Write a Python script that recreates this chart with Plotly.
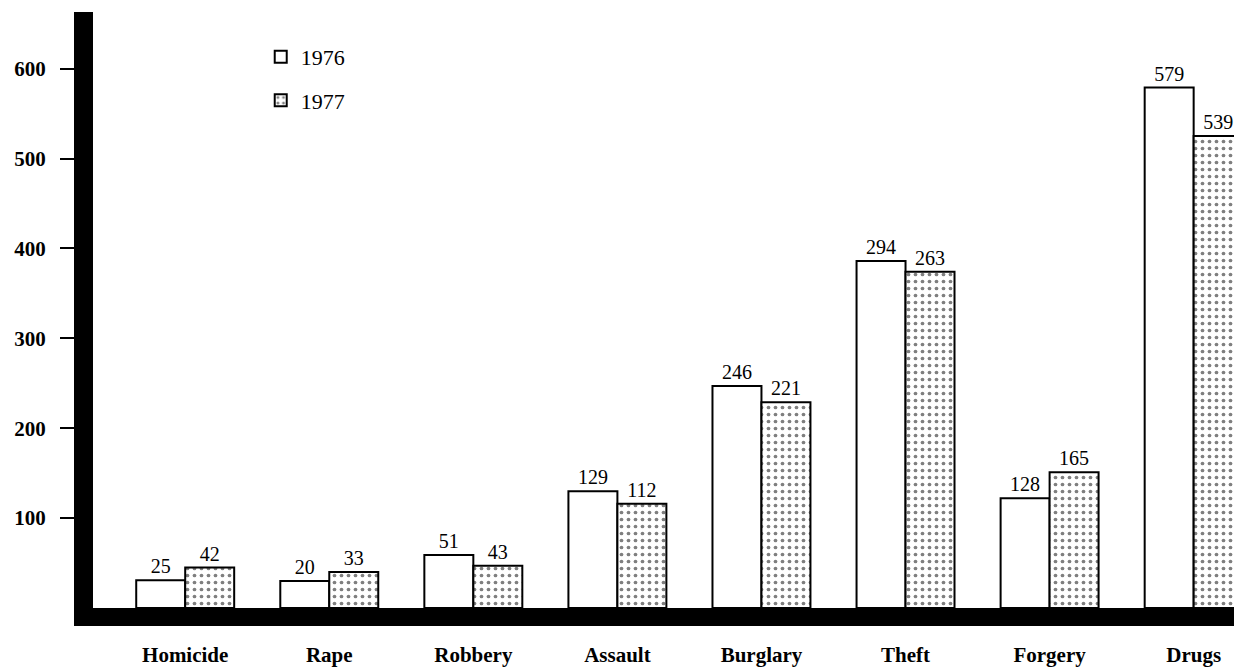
import plotly.graph_objects as go

crimes = ["Homicide", "Rape", "Robbery", "Assault", "Burglary", "Theft", "Forgery", "Drugs"]

# bar heights as they are drawn against the axis
bars_1976 = [31, 30, 59, 130, 247, 386, 122, 579]
bars_1977 = [45, 40, 47, 116, 229, 374, 151, 525]

# numbers printed above the bars
labels_1976 = ["25", "20", "51", "129", "246", "294", "128", "579"]
labels_1977 = ["42", "33", "43", "112", "221", "263", "165", "539"]

y_ticks = [100, 200, 300, 400, 500, 600]

serif = "Liberation Serif, Times New Roman, serif"

fig = go.Figure()
fig.add_trace(go.Bar(
    x=crimes, y=bars_1976, name="1976", legendgroup="a",
    text=labels_1976, textposition="outside", constraintext="none",
    textfont=dict(family=serif, size=20, color="black"),
    marker=dict(color="white", line=dict(color="black", width=2)),
))
fig.add_trace(go.Bar(
    x=crimes, y=bars_1977, name="1977", legendgroup="b",
    text=labels_1977, textposition="outside", constraintext="none",
    textfont=dict(family=serif, size=20, color="black"),
    marker=dict(color="white", line=dict(color="black", width=2),
                pattern=dict(shape=".", size=7, solidity=0.22,
                             fgcolor="black", bgcolor="white")),
))

fig.update_layout(
    width=1234, height=667,
    margin=dict(l=93, r=0, t=12, b=57),
    paper_bgcolor="white", plot_bgcolor="white",
    barmode="group", bargap=0.32, bargroupgap=0,
    font=dict(family=serif, color="black"),
    legend=dict(x=0.147, y=0.96, xanchor="left", yanchor="top",
                font=dict(family=serif, size=22), tracegroupgap=12,
                bgcolor="rgba(0,0,0,0)", traceorder="grouped"),
    xaxis=dict(range=[-0.64, 7.28], showline=True, linewidth=18, linecolor="black",
               showgrid=False, ticks="", ticklabelstandoff=11,
               tickfont=dict(family=serif, size=21, weight="bold")),
    yaxis=dict(range=[0, 663], tickvals=y_ticks, showline=True, linewidth=19,
               linecolor="black", showgrid=False, zeroline=False,
               ticks="outside", ticklen=14, tickwidth=2, tickcolor="black",
               ticklabelstandoff=10,
               tickfont=dict(family=serif, size=21, weight="bold")),
)

# page body has a default 8px margin, drop it so the figure fills the window
fig.write_html("out.html", config={"displayModeBar": False},
               post_script="document.body.style.margin = '0';")
